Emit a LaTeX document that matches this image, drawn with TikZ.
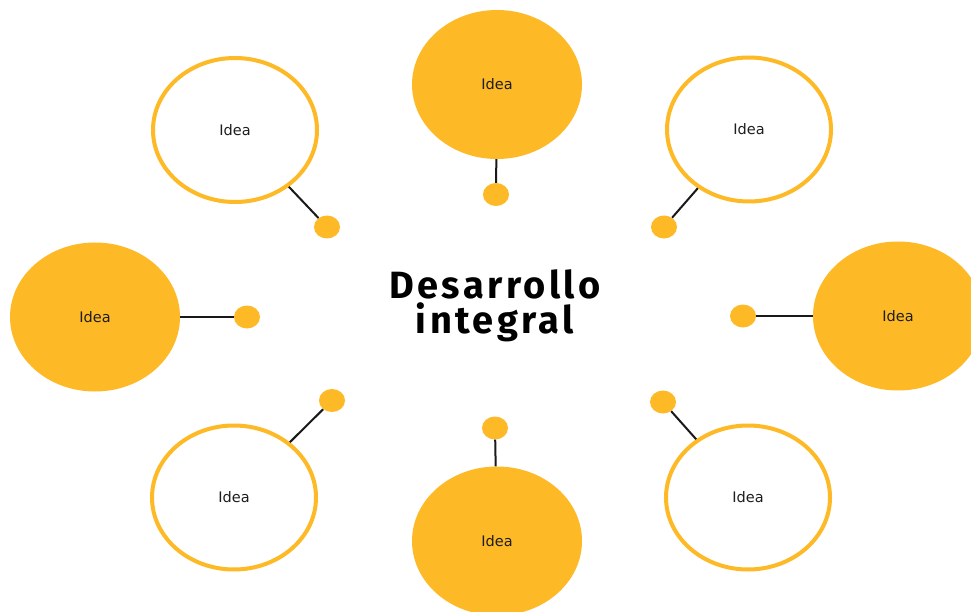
\documentclass[tikz,border=0pt]{standalone}
\usepackage{fontspec}
\setmainfont{DejaVu Sans}
\newfontfamily\titlefont[LetterSpace=9]{Fira Sans}
\usetikzlibrary{shapes.geometric}
\definecolor{gold}{RGB}{254,185,38}
\definecolor{txt}{RGB}{30,30,30}
\tikzset{
  idea/.style={ellipse, inner sep=0pt, font=\fontsize{14.5}{17}\selectfont, text=txt},
  ideafill/.style={idea, fill=gold, minimum width=170pt, minimum height=149pt},
  idealine/.style={idea, draw=gold, line width=4pt, fill=white, minimum width=164pt, minimum height=144pt},
  dot/.style={ellipse, fill=gold, inner sep=0pt, minimum width=26pt, minimum height=23pt},
  link/.style={draw=black!90, line width=2pt},
}
\begin{document}
\begin{tikzpicture}[x=1pt,y=-1pt]
\clip (0,0) rectangle (971,612);
\fill[white] (0,0) rectangle (971,612);
% ideas
\node[ideafill] (t)  at (497,84.5) {Idea};
\node[idealine] (tl) at (235,130) {Idea};
\node[idealine] (tr) at (749,129.5) {Idea};
\node[ideafill] (l)  at (95,317) {Idea};
\node[ideafill] (r)  at (898,316) {Idea};
\node[idealine] (bl) at (234,497.5) {Idea};
\node[ideafill] (b)  at (497,541) {Idea};
\node[idealine] (br) at (748,497.5) {Idea};
% dots
\node[dot] (dt)  at (496,194.5) {};
\node[dot] (dtl) at (327,227) {};
\node[dot] (dtr) at (664,227) {};
\node[dot] (dl)  at (247,317) {};
\node[dot] (dr)  at (743,316) {};
\node[dot] (dbl) at (332,400.5) {};
\node[dot] (db)  at (495,428) {};
\node[dot] (dbr) at (663,402) {};
% connectors
\draw[link] (t) -- (dt);
\draw[link] (tl) -- (dtl);
\draw[link] (tr) -- (dtr);
\draw[link] (l) -- (dl);
\draw[link] (r) -- (dr);
\draw[link] (bl) -- (dbl);
\draw[link] (b) -- (db);
\draw[link] (br) -- (dbr);
% title
\node[font=\titlefont\bfseries\fontsize{38}{35}\selectfont, align=center, text=black] (title) at (495,306) {Desarrollo\\integral};
\end{tikzpicture}
\end{document}
